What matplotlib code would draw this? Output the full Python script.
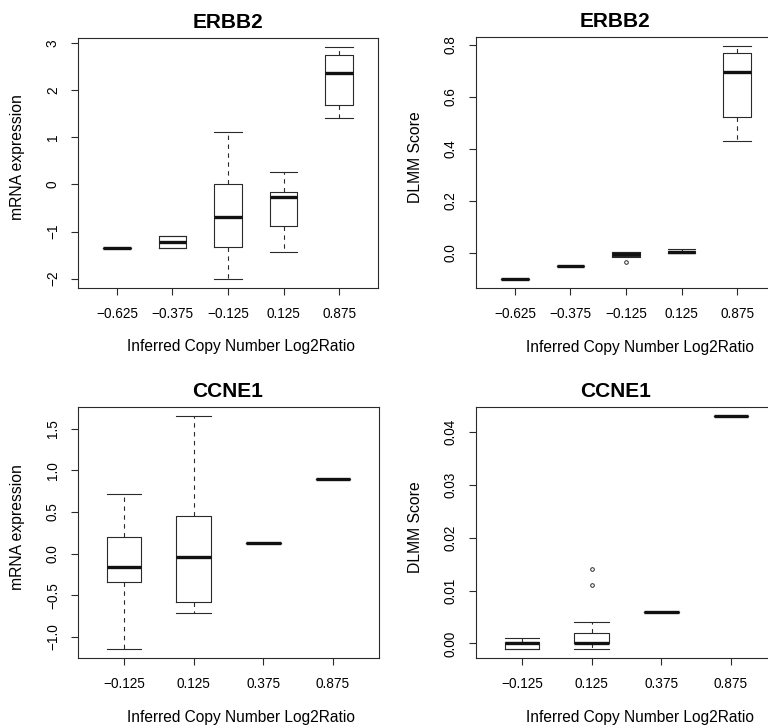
import matplotlib.pyplot as plt

plt.rcParams['font.family'] = ['Liberation Sans', 'DejaVu Sans']

# ERBB2, mRNA expression
erbb2_cats = ['−0.625', '−0.375', '−0.125', '0.125', '0.875']
erbb2_mrna_lo = [-1.35, -1.35, -2.00, -1.43, 1.42]
erbb2_mrna_q1 = [-1.35, -1.35, -1.33, -0.88, 1.69]
erbb2_mrna_med = [-1.35, -1.22, -0.69, -0.27, 2.37]
erbb2_mrna_q3 = [-1.35, -1.10, 0.00, -0.16, 2.75]
erbb2_mrna_hi = [-1.35, -1.10, 1.12, 0.26, 2.91]
erbb2_mrna_fliers = [[], [], [], [], []]
erbb2_mrna_yticks = [-2, -1, 0, 1, 2, 3]
erbb2_mrna_ylabels = ['−2', '−1', '0', '1', '2', '3']

# ERBB2, DLMM score
erbb2_dlmm_lo = [-0.099, -0.051, -0.015, -0.001, 0.431]
erbb2_dlmm_q1 = [-0.099, -0.051, -0.011, 0.000, 0.522]
erbb2_dlmm_med = [-0.099, -0.051, -0.003, 0.003, 0.696]
erbb2_dlmm_q3 = [-0.099, -0.051, 0.003, 0.009, 0.769]
erbb2_dlmm_hi = [-0.099, -0.051, 0.005, 0.014, 0.794]
erbb2_dlmm_fliers = [[], [], [-0.036], [], []]
erbb2_dlmm_yticks = [0.0, 0.2, 0.4, 0.6, 0.8]
erbb2_dlmm_ylabels = ['0.0', '0.2', '0.4', '0.6', '0.8']

# CCNE1, mRNA expression
ccne1_cats = ['−0.125', '0.125', '0.375', '0.875']
ccne1_mrna_lo = [-1.14, -0.716, 0.134, 0.893]
ccne1_mrna_q1 = [-0.34, -0.577, 0.134, 0.893]
ccne1_mrna_med = [-0.165, -0.034, 0.134, 0.893]
ccne1_mrna_q3 = [0.20, 0.45, 0.134, 0.893]
ccne1_mrna_hi = [0.713, 1.648, 0.134, 0.893]
ccne1_mrna_fliers = [[], [], [], []]
ccne1_mrna_yticks = [-1.0, -0.5, 0.0, 0.5, 1.0, 1.5]
ccne1_mrna_ylabels = ['−1.0', '−0.5', '0.0', '0.5', '1.0', '1.5']

# CCNE1, DLMM score
ccne1_dlmm_lo = [-0.001, -0.001, 0.006, 0.043]
ccne1_dlmm_q1 = [-0.001, 0.0, 0.006, 0.043]
ccne1_dlmm_med = [0.0, 0.0, 0.006, 0.043]
ccne1_dlmm_q3 = [0.0002, 0.002, 0.006, 0.043]
ccne1_dlmm_hi = [0.001, 0.004, 0.006, 0.043]
ccne1_dlmm_fliers = [[], [0.011, 0.014], [], []]
ccne1_dlmm_yticks = [0.0, 0.01, 0.02, 0.03, 0.04]
ccne1_dlmm_ylabels = ['0.00', '0.01', '0.02', '0.03', '0.04']

line_col = '#2a2a2a'


def draw(ax, cats, lo, q1, med, q3, hi, fliers, yticks, ylabels,
         title, ylabel, title_x, xlab_x):
    stats = []
    for i in range(len(cats)):
        stats.append({'whislo': lo[i], 'q1': q1[i], 'med': med[i],
                      'q3': q3[i], 'whishi': hi[i], 'fliers': fliers[i],
                      'label': cats[i]})
    pos = list(range(1, len(cats) + 1))
    ax.bxp(stats, positions=pos, widths=0.5, capwidths=0.5,
           showfliers=True, manage_ticks=False,
           boxprops=dict(color=line_col, linewidth=0.8),
           whiskerprops=dict(color=line_col, linewidth=0.8,
                             linestyle=(0, (4, 4))),
           capprops=dict(color=line_col, linewidth=0.8),
           medianprops=dict(color='#111111', linewidth=2.4,
                            solid_capstyle='butt'),
           flierprops=dict(marker='o', markersize=2.6,
                           markerfacecolor='none',
                           markeredgecolor=line_col,
                           markeredgewidth=0.7))

    # R style axis range: 4% padding
    allv = lo + hi + [v for f in fliers for v in f]
    dmin, dmax = min(allv), max(allv)
    pad = (dmax - dmin) * 0.04
    ax.set_ylim(dmin - pad, dmax + pad)
    n = len(cats)
    ax.set_xlim(0.5 - n * 0.04, n + 0.5 + n * 0.04)

    ax.set_xticks(pos)
    ax.set_xticklabels(cats, fontsize=9.8)
    ax.set_yticks(yticks)
    ax.set_yticklabels(ylabels, fontsize=9.8, rotation=90, va='center')
    ax.tick_params(direction='out', length=5, width=0.8, color=line_col)
    ax.tick_params(axis='x', pad=9)
    ax.tick_params(axis='y', pad=8)
    for s in ax.spines.values():
        s.set_linewidth(0.8)
        s.set_color(line_col)

    ax.text(title_x, 1.062, title, transform=ax.transAxes, ha='center',
            va='center', fontsize=15, fontweight='bold')
    ax.text(xlab_x, -0.236, 'Inferred Copy Number Log2Ratio',
            transform=ax.transAxes, ha='center', va='center', fontsize=11.2)
    ax.text(-0.2, 0.522, ylabel, transform=ax.transAxes, ha='center',
            va='center', rotation=90, fontsize=11.3)


fig = plt.figure(figsize=(7.68, 7.26), dpi=100)

ax1 = fig.add_axes([78 / 768, 1 - 288 / 726, 300 / 768, 250 / 726])
ax2 = fig.add_axes([476 / 768, 1 - 288 / 726, 300 / 768, 251 / 726])
ax3 = fig.add_axes([78 / 768, 1 - 658 / 726, 301 / 768, 251 / 726])
ax4 = fig.add_axes([476 / 768, 1 - 658 / 726, 301 / 768, 251 / 726])

draw(ax1, erbb2_cats, erbb2_mrna_lo, erbb2_mrna_q1, erbb2_mrna_med,
     erbb2_mrna_q3, erbb2_mrna_hi, erbb2_mrna_fliers,
     erbb2_mrna_yticks, erbb2_mrna_ylabels, 'ERBB2', 'mRNA expression',
     0.5, 0.543)
draw(ax2, erbb2_cats, erbb2_dlmm_lo, erbb2_dlmm_q1, erbb2_dlmm_med,
     erbb2_dlmm_q3, erbb2_dlmm_hi, erbb2_dlmm_fliers,
     erbb2_dlmm_yticks, erbb2_dlmm_ylabels, 'ERBB2', 'DLMM Score',
     0.463, 0.547)
draw(ax3, ccne1_cats, ccne1_mrna_lo, ccne1_mrna_q1, ccne1_mrna_med,
     ccne1_mrna_q3, ccne1_mrna_hi, ccne1_mrna_fliers,
     ccne1_mrna_yticks, ccne1_mrna_ylabels, 'CCNE1', 'mRNA expression',
     0.497, 0.54)
draw(ax4, ccne1_cats, ccne1_dlmm_lo, ccne1_dlmm_q1, ccne1_dlmm_med,
     ccne1_dlmm_q3, ccne1_dlmm_hi, ccne1_dlmm_fliers,
     ccne1_dlmm_yticks, ccne1_dlmm_ylabels, 'CCNE1', 'DLMM Score',
     0.463, 0.545)

fig.savefig('out.png', dpi=100)
